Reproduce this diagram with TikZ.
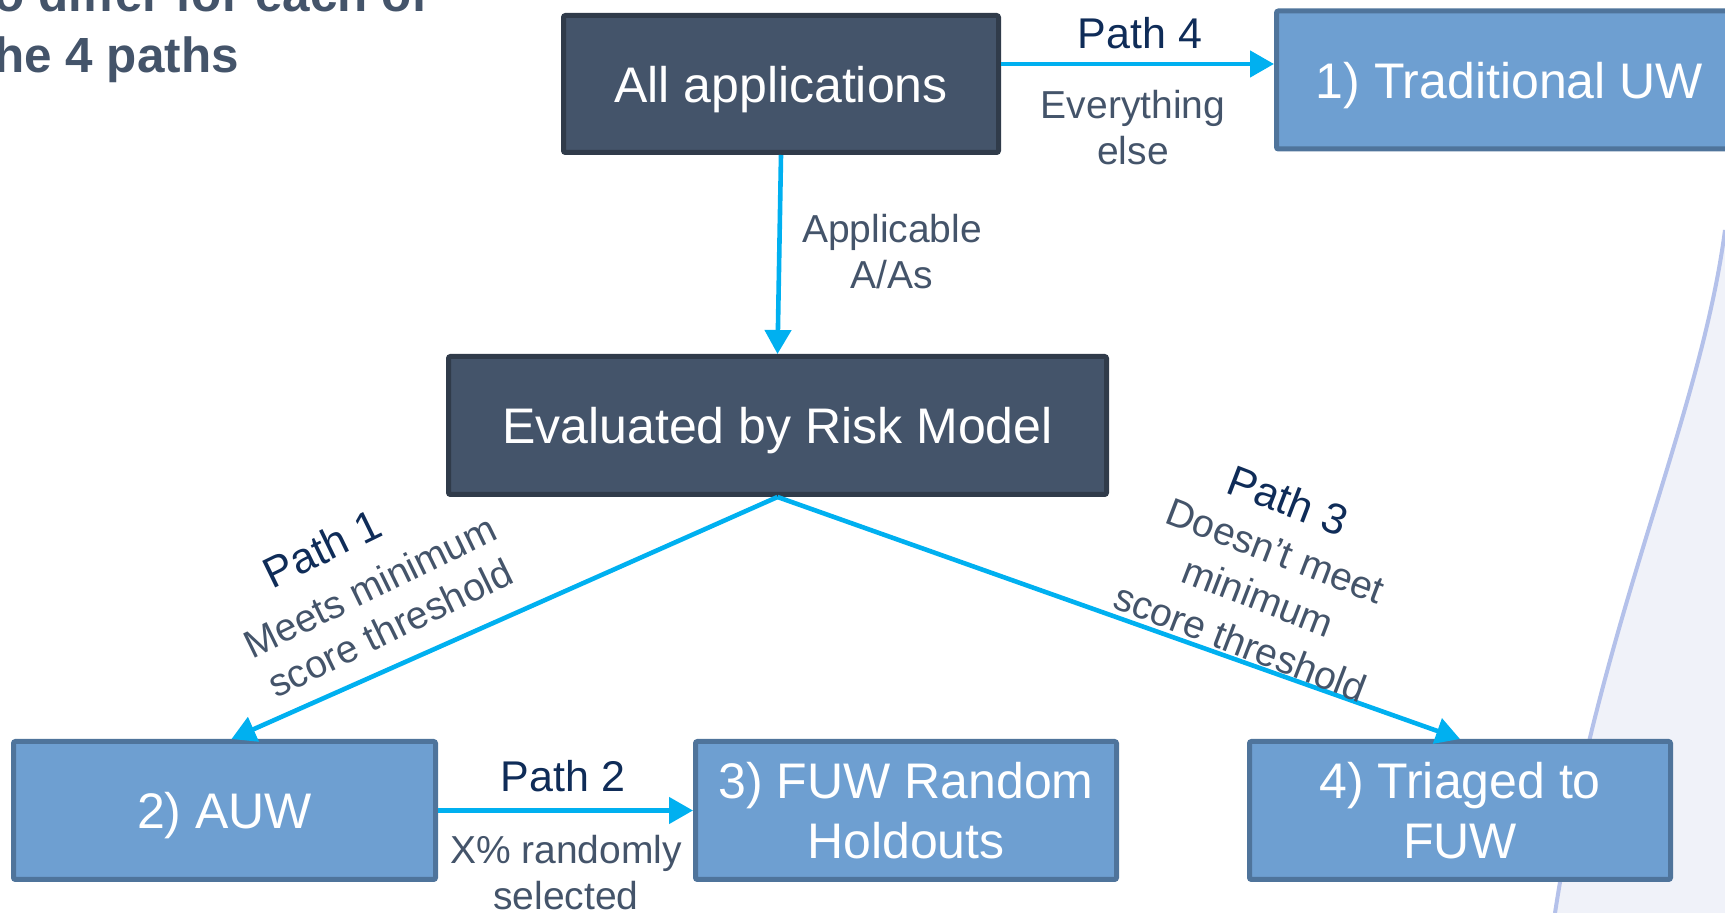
\documentclass[tikz,border=0pt]{standalone}
\usepackage{fontspec}
\setmainfont{Liberation Sans}
\usetikzlibrary{arrows.meta,calc}
\definecolor{boxdark}{HTML}{44546A}
\definecolor{boxdarkline}{HTML}{303B4A}
\definecolor{boxlight}{HTML}{6E9FD1}
\definecolor{boxlightline}{HTML}{4F749B}
\definecolor{arrowcyan}{HTML}{00B0F0}
\definecolor{labgrey}{HTML}{44546A}
\definecolor{pathnavy}{HTML}{0F2C58}
\definecolor{swoosh}{HTML}{B4C1EA}
\definecolor{swooshfill}{HTML}{F0F2F9}
\begin{document}
\begin{tikzpicture}[x=0.5pt,y=-0.5pt,
  darkbox/.style={draw=boxdarkline, fill=boxdark, line width=2.5pt, rounded corners=1pt, text=white, font=\fontsize{25}{30}\selectfont, align=center, inner sep=0pt},
  lightbox/.style={draw=boxlightline, fill=boxlight, line width=2.5pt, rounded corners=1pt, text=white, font=\fontsize{25}{30}\selectfont, align=center, inner sep=0pt},
  oneline/.style={text depth=0pt},
  flow/.style={draw=arrowcyan, line width=2.3pt, -{Triangle[length=12pt,width=13pt]}},
  pathlab/.style={text=pathnavy, font=\fontsize{21.5}{25}\selectfont, inner sep=0pt},
  sublab/.style={text=labgrey, font=\fontsize{19.5}{23}\selectfont, align=center, inner sep=0pt},
  titletext/.style={text=labgrey, font=\bfseries\fontsize{24.7}{30}\selectfont, inner sep=0pt, anchor=base west}]
\useasboundingbox (0,0) rectangle (1725,913);
\clip (0,0) rectangle (1725,913);
% background swoosh
\fill[swooshfill] (1725,230) .. controls (1700,420) and (1600,620) .. (1555,913) -- (1725,913) -- cycle;
\draw[swoosh, line width=2pt] (1725,230) .. controls (1700,420) and (1600,620) .. (1555,913);
% title (cut off at the left and top edges)
\node[titletext] (t1) at (-6,12) {o differ for each of};
\node[titletext] (t2) at (-6,73) {he 4 paths};
% boxes
\node[darkbox, oneline, minimum width=217.5pt, minimum height=68.5pt] (allapps) at (781,84) {All applications};
\node[lightbox, oneline, minimum width=233pt, minimum height=69pt] (trad) at (1509.5,80) {1) Traditional UW};
\node[darkbox, oneline, minimum width=329pt, minimum height=69pt] (eval) at (777.5,425.5) {Evaluated by Risk Model};
\node[lightbox, oneline, minimum width=211pt, minimum height=69pt] (auw) at (224.5,810.5) {2) AUW};
\node[lightbox, minimum width=210.5pt, minimum height=69pt] (fuwr) at (906,810.5) {3) FUW Random\\Holdouts};
\node[lightbox, minimum width=210.5pt, minimum height=69pt] (triaged) at (1460,810.5) {4) Triaged to\\FUW};
% connectors
\coordinate (p4y) at (0,64);
\draw[flow] (allapps.east |- p4y) -- (trad.west |- p4y);
\draw[flow] (allapps.south) -- (eval.north);
\draw[flow] (eval.south) -- ($(auw.north)+(7,0)$);
\draw[flow] (eval.south) -- (triaged.north);
\draw[flow] (auw.east) -- (fuwr.west);
% labels
\node[pathlab] (p4) at (1140,33) {Path 4};
\node[sublab] (p4s) at (1133,128) {Everything\\else};
\node[sublab] (aas) at (892,252) {Applicable\\A/As};
\node[pathlab] (p2) at (563,776) {Path 2};
\node[sublab] (p2s) at (566,873) {X\% randomly\\selected};
\node[pathlab, rotate=26] (p1) at (322,548) {Path 1};
\node[sublab, rotate=26] (p1s) at (380,607) {Meets minimum\\score threshold};
\node[pathlab, rotate=-21] (p3) at (1288,500) {Path 3};
\node[sublab, rotate=-21, font=\fontsize{19.5}{24.5}\selectfont] (p3s) at (1258,597) {Doesn’t meet\\minimum\\score threshold};
\end{tikzpicture}
\end{document}
